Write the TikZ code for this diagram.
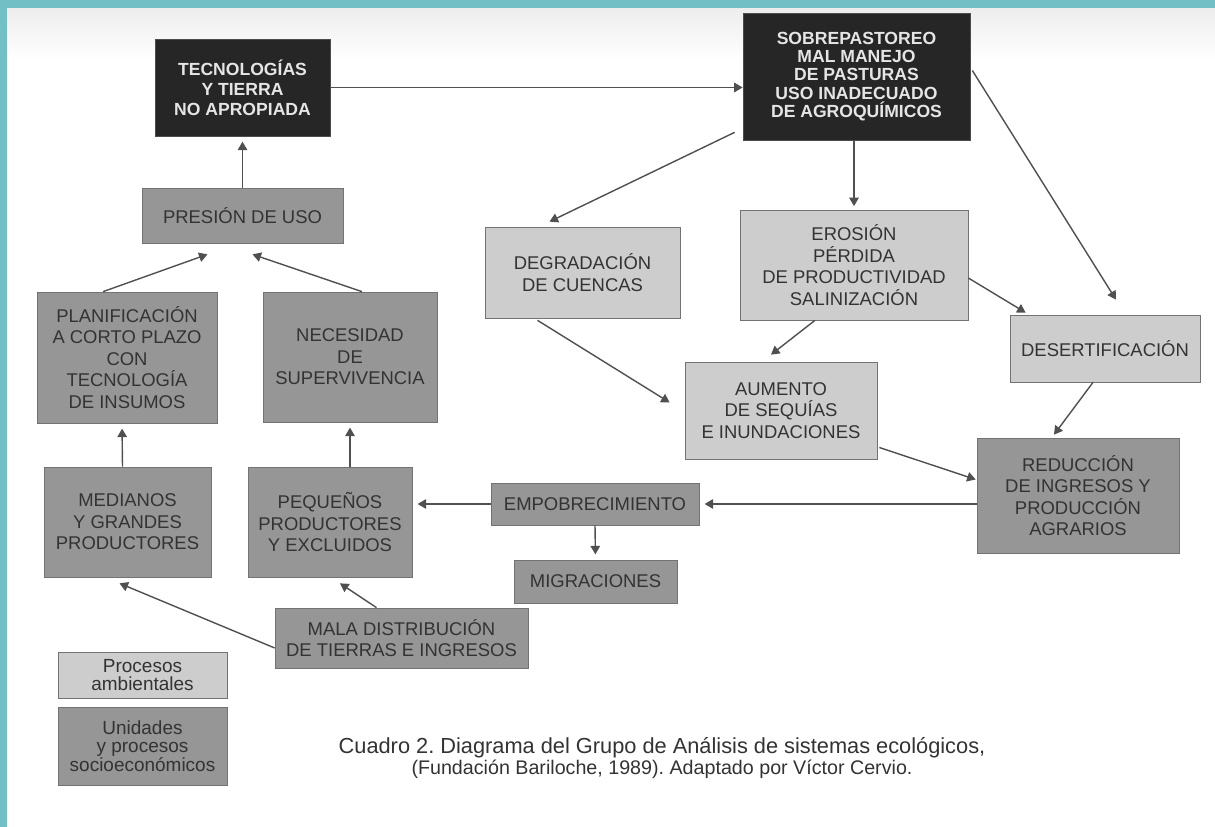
\documentclass[tikz,border=0pt]{standalone}
\usepackage{fontspec}
\setmainfont{Liberation Sans}
\usetikzlibrary{arrows.meta,calc}
\definecolor{marco}{HTML}{72BFC5}
\definecolor{oscuro}{HTML}{262626}
\definecolor{claro}{HTML}{CDCDCD}
\definecolor{medio}{HTML}{969696}
\definecolor{linea}{HTML}{505050}
\definecolor{letra}{HTML}{333333}
\frenchspacing

\begin{document}
\begin{tikzpicture}[x=0.02cm, y=-0.02cm]
        \tikzstyle{oscura}=[draw=black!70, fill=oscuro, text=gray!20, font=\bfseries\fontsize{10}{11.3}\selectfont, align=center, inner sep=0pt]
        \tikzstyle{amb}=[draw=black!55, fill=claro, text=letra, font=\fontsize{10.5}{12.2}\selectfont, align=center, inner sep=0pt]
        \tikzstyle{soc}=[amb, fill=medio]
        \tikzstyle{leyenda}=[font=\fontsize{10.8}{10.6}\selectfont]
        \tikzstyle{flecha}=[draw=linea, line width=0.8pt, -{Triangle[length=1.7mm, width=1.9mm]}]

        % Frame
        \useasboundingbox (0,0) rectangle (1215,827);
        \fill[white] (0,0) rectangle (1215,827);
        \shade[top color=gray!14, bottom color=white] (7,8) rectangle (1215,60);
        \fill[marco] (0,0) rectangle (1215,8);
        \fill[marco] (0,0) rectangle (7,827);

        % Nodes
        \node[oscura, minimum width=3.5cm, minimum height=1.94cm] (tec) at (242.5, 87.5) {TECNOLOGÍAS\\Y TIERRA\\NO APROPIADA};
        \node[oscura, minimum width=4.54cm, minimum height=2.54cm, font=\bfseries\fontsize{10}{10.4}\selectfont] (sobre) at (856.5, 76.5) {SOBREPASTOREO\\MAL MANEJO\\DE PASTURAS\\USO INADECUADO\\DE AGROQUÍMICOS};

        \node[soc, minimum width=4.02cm, minimum height=1.1cm] (presion) at (242.5, 215.5) {PRESIÓN DE USO};
        \node[soc, minimum width=3.6cm, minimum height=2.62cm] (planif) at (127, 357.5) {PLANIFICACIÓN\\A CORTO PLAZO\\CON\\TECNOLOGÍA\\DE INSUMOS};
        \node[soc, minimum width=3.48cm, minimum height=2.6cm] (necesidad) at (350, 357) {NECESIDAD\\DE\\SUPERVIVENCIA};
        \node[soc, minimum width=3.34cm, minimum height=2.2cm] (medianos) at (127.5, 522) {MEDIANOS\\Y GRANDES\\PRODUCTORES};
        \node[soc, minimum width=3.28cm, minimum height=2.2cm] (pequenos) at (330, 522) {PEQUEÑOS\\PRODUCTORES\\Y EXCLUIDOS};

        \node[amb, minimum width=3.9cm, minimum height=1.82cm] (degrad) at (582.5, 272.5) {DEGRADACIÓN\\DE CUENCAS};
        \node[amb, minimum width=4.56cm, minimum height=2.2cm] (erosion) at (854, 265) {EROSIÓN\\PÉRDIDA\\DE PRODUCTIVIDAD\\SALINIZACIÓN};
        \node[amb, minimum width=3.8cm, minimum height=1.34cm] (desert) at (1105, 348.5) {DESERTIFICACIÓN};
        \node[amb, minimum width=3.84cm, minimum height=1.94cm] (aumento) at (781, 410.5) {AUMENTO\\DE SEQUÍAS\\E INUNDACIONES};

        \node[soc, minimum width=4.04cm, minimum height=2.3cm] (reduccion) at (1078, 495.5) {REDUCCIÓN\\DE INGRESOS Y\\PRODUCCIÓN\\AGRARIOS};
        \node[soc, minimum width=4.16cm, minimum height=0.84cm] (empobr) at (595, 504) {EMPOBRECIMIENTO};
        \node[soc, minimum width=3.26cm, minimum height=0.86cm] (migrac) at (595.5, 581.5) {MIGRACIONES};
        \node[soc, minimum width=5.06cm, minimum height=1.2cm] (mala) at (401.5, 638) {MALA DISTRIBUCIÓN\\DE TIERRAS E INGRESOS};

        % Legend and caption
        \node[amb, leyenda, minimum width=3.38cm, minimum height=0.92cm] (procesos) at (142.5, 675) {Procesos\\ambientales};
        \node[soc, leyenda, minimum width=3.38cm, minimum height=1.56cm] (unidades) at (142.5, 746) {Unidades\\y procesos\\socioeconómicos};
        \node[text=letra, align=center] (caption) at (662, 758) {{\fontsize{12.4}{14}\selectfont Cuadro 2. Diagrama del Grupo de Análisis de sistemas ecológicos,}\\{\fontsize{11.2}{12}\selectfont (Fundación Bariloche, 1989). Adaptado por Víctor Cervio.}};

        % Edges
        \draw[flecha] (tec.east) -- (tec.east -| sobre.west);
        \draw[flecha, shorten >=3pt] (presion.north) -- (tec.south);
        \draw[flecha] ($(planif.north)+(-24,0)$) -- ($(presion.south)+(-35,11)$);
        \draw[flecha] ($(necesidad.north)+(12,0)$) -- ($(presion.south)+(10,11)$);
        \draw[flecha, shorten >=3pt] ($(medianos.north)+(-5,0)$) -- ($(planif.south)+(-5,0)$);
        \draw[flecha, shorten >=3pt] (pequenos.north -| necesidad.south) -- (necesidad.south);

        \draw[flecha, shorten >=3pt] (empobr.west) -- (empobr.west -| pequenos.east);
        \draw[flecha, shorten >=3pt] (empobr.south) -- (migrac.north);
        \draw[flecha, shorten >=3pt] (reduccion.west |- empobr.east) -- (empobr.east);
        \draw[flecha] ($(mala.west)+(0,10)$) -- ($(medianos.south)+(-8,6)$);
        \draw[flecha] ($(mala.north)+(-25,0)$) -- ($(pequenos.south)+(10,6)$);

        \draw[flecha] ($(sobre.south west)+(-8,-8)$) -- ($(degrad.north)+(-33,-5)$);
        \draw[flecha, shorten >=2pt] (sobre.south -| erosion.north) -- (erosion.north);
        \draw[flecha] ($(sobre.east)+(2,-6)$) -- ($(desert.north)+(11,-15)$);
        \draw[flecha] ($(erosion.east)+(0,13)$) -- ($(desert.north west)+(16,-2)$);
        \draw[flecha] ($(erosion.south)+(-39,0)$) -- ($(aumento.north)+(-10,-7)$);
        \draw[flecha] ($(degrad.south)+(-45,2)$) -- ($(aumento.west)+(-15,-8)$);
        \draw[flecha] ($(desert.south)+(-12,0)$) -- ($(reduccion.north)+(-24,-3)$);
        \draw[flecha] ($(aumento.east)+(2,37)$) -- ($(reduccion.west)+(-1,-16)$);

\end{tikzpicture}
\end{document}
